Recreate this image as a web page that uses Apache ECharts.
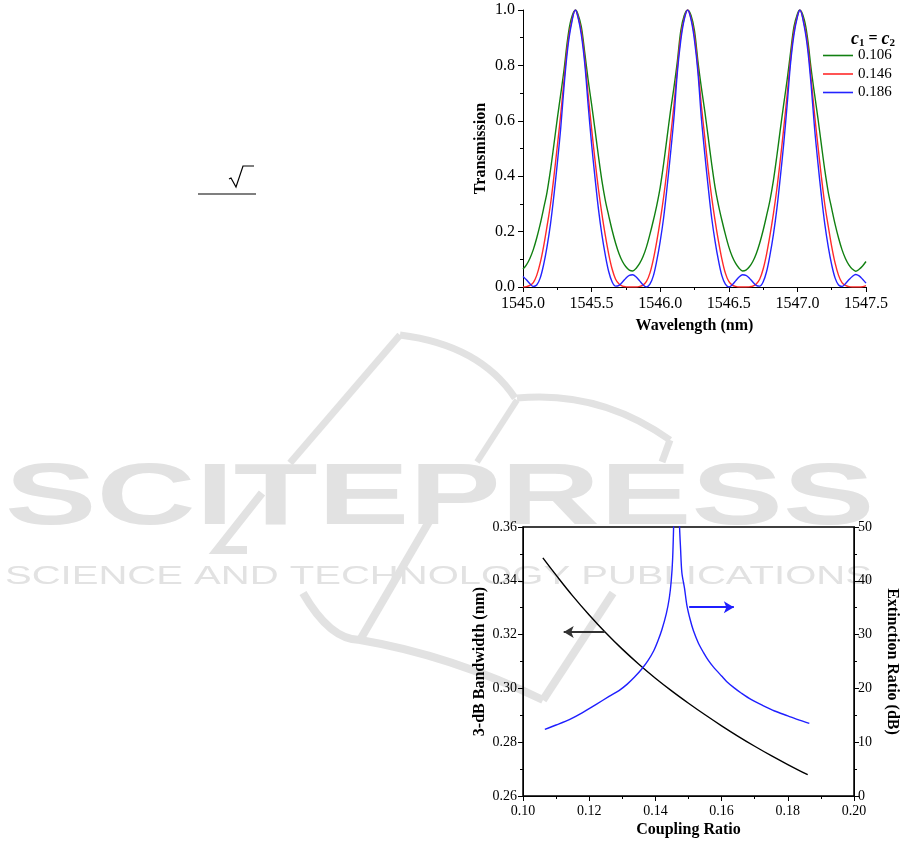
<!DOCTYPE html>
<html>
<head>
<meta charset="utf-8">
<script src="https://cdn.jsdelivr.net/npm/echarts@6/dist/echarts.min.js"></script>
<style>html,body{margin:0;padding:0;background:#fff}#c{width:901px;height:841px}</style>
</head>
<body>
<div id="c"></div>
<script>
// ---------- Top chart: transmission spectra ----------
const wavelength = [
1545.000,1545.025,1545.050,1545.075,1545.100,1545.125,1545.150,1545.175,1545.200,1545.225,
1545.250,1545.275,1545.300,1545.325,1545.350,1545.382,1545.400,1545.425,1545.450,1545.475,
1545.500,1545.525,1545.550,1545.575,1545.600,1545.625,1545.650,1545.675,1545.700,1545.725,
1545.750,1545.775,1545.800,1545.825,1545.850,1545.875,1545.900,1545.925,1545.950,1545.975,
1546.000,1546.025,1546.050,1546.075,1546.100,1546.125,1546.150,1546.175,1546.200,1546.225,
1546.250,1546.275,1546.300,1546.325,1546.350,1546.375,1546.400,1546.425,1546.450,1546.475,
1546.500,1546.525,1546.550,1546.575,1546.600,1546.625,1546.650,1546.675,1546.700,1546.725,
1546.750,1546.775,1546.800,1546.825,1546.850,1546.875,1546.900,1546.925,1546.950,1546.975,
1547.000,1547.018,1547.050,1547.075,1547.100,1547.125,1547.150,1547.175,1547.200,1547.225,
1547.250,1547.275,1547.300,1547.325,1547.350,1547.375,1547.400,1547.425,1547.450,1547.475,
1547.500];
const trans106 = [
.065,.080,.103,.135,.177,.226,.283,.342,.421,.513,.608,.696,.788,.894,.965,
1,
.986,.940,.846,.747,.659,.567,.472,.384,.313,.257,.204,.158,.12,.092,.073,.061,
.058,
.068,.085,.11,.145,.19,.24,.295,.36,.445,.54,.635,.72,.815,.925,.98,
1,
.98,.925,.815,.72,.635,.54,.445,.36,.295,.24,.19,.145,.11,.085,.068,
.058,
.061,.073,.092,.12,.158,.204,.257,.313,.384,.472,.567,.659,.747,.846,.940,.986,
1,
.965,.894,.788,.696,.608,.513,.421,.342,.283,.226,.177,.135,.103,.080,.065,
.057,.064,.076,.092];
const trans146 = [
0,.0015,.006,.016,.042,.086,.146,.219,.297,.397,.508,.623,.752,.873,.948,
1,
.978,.923,.822,.693,.572,.457,.353,.264,.186,.118,.064,.028,.011,.003,.0005,0,
0,
0,.002,.007,.02,.05,.10,.165,.24,.325,.425,.54,.655,.79,.905,.97,
1,
.97,.905,.79,.655,.54,.425,.325,.24,.165,.10,.05,.02,.007,.002,0,
0,
0,.0005,.003,.011,.028,.064,.118,.186,.264,.353,.457,.572,.693,.822,.923,.978,
1,
.948,.873,.752,.623,.508,.397,.297,.219,.146,.086,.042,.016,.006,.0015,0,
0,0,.001,.005];
const trans186 = [
.038,.026,.012,.002,.007,.032,.08,.145,.226,.329,.446,.574,.729,.858,.941,
1,
.975,.911,.807,.656,.516,.394,.281,.189,.115,.055,.018,.003,.006,.018,.032,.042,
.044,
.036,.022,.008,0,.01,.04,.095,.165,.25,.36,.48,.61,.775,.89,.965,
1,
.965,.89,.775,.61,.48,.36,.25,.165,.095,.04,.01,0,.008,.022,.036,
.044,
.042,.032,.018,.006,.003,.018,.055,.115,.189,.281,.394,.516,.656,.807,.911,.975,
1,
.941,.858,.729,.574,.446,.329,.226,.145,.08,.032,.007,.002,.012,.026,.038,
.045,.040,.028,.014];
const couplingNames = ['0.106', '0.146', '0.186'];

// ---------- Bottom chart: bandwidth & extinction ratio ----------
const couplingBW = [0.106,0.11,0.115,0.12,0.125,0.13,0.135,0.14,0.145,0.15,0.155,0.16,0.165,0.17,0.175,0.18,0.186];
const bandwidth  = [0.3485,0.3421,0.3344,0.3273,0.3207,0.3146,0.3090,0.3038,0.2990,0.2945,0.2902,0.2861,0.2822,0.2785,0.2750,0.2717,0.2679];
const couplingER = [0.1066,0.110,0.114,0.118,0.122,0.126,0.129,0.1315,0.1337,0.136,0.1378,0.1395,0.1408,0.142,0.1433,0.1442,0.1448,0.1452,0.1455,0.1458,
                    0.1469,0.1473,0.1476,0.148,0.1488,0.1495,0.1505,0.1515,0.153,0.1545,0.156,0.1575,0.16,0.1615,0.164,0.166,0.169,0.1725,0.176,0.18,0.1835,0.1865];
const extinction = [12.4,13.2,14.2,15.5,17.0,18.5,19.6,20.8,22.1,23.7,25.2,27.0,28.9,31.0,33.9,36.8,40.1,44,50,60,
                    60,50,46,41.5,38.6,35.5,32.8,30.7,28.4,26.7,25.2,24.0,22.3,21.3,20.0,19.1,17.9,16.8,15.8,14.9,14.1,13.5];
const arrowBW = [[0.1247, 0.321], [0.1123, 0.321]];
const arrowER = [[0.1502, 35.1], [0.1637, 35.1]];

const SERIF = '"Liberation Serif","Times New Roman",serif';
const WM = '#e2e2e2';

function axisCommon(fs, fmt, margin) {
  return {
    axisLine: { show: true, onZero: false, lineStyle: { color: '#000', width: 1 } },
    axisTick: { show: true, inside: false, length: 5, lineStyle: { color: '#000' } },
    minorTick: { show: true, splitNumber: 2, length: 3, lineStyle: { color: '#000' } },
    splitLine: { show: false },
    minorSplitLine: { show: false },
    axisLabel: { color: '#000', fontFamily: SERIF, fontSize: fs, margin: margin, formatter: fmt },
    nameTextStyle: { color: '#000', fontFamily: SERIF, fontWeight: 'bold', fontSize: fs }
  };
}

const chart = echarts.init(document.getElementById('c'), null, { renderer: 'canvas' });

const colors = ['#118011', '#ff2a2a', '#2323ff'];
const transSets = [trans106, trans146, trans186];

function wmLine(pts, w) {
  return { type: 'polyline', z: -10, silent: true, shape: { points: pts }, style: { fill: null, stroke: WM, lineWidth: w } };
}
function wmCurve(x1, y1, cx, cy, x2, y2, w) {
  return { type: 'bezierCurve', z: -10, silent: true, shape: { x1: x1, y1: y1, cpx1: cx, cpy1: cy, x2: x2, y2: y2 }, style: { fill: null, stroke: WM, lineWidth: w } };
}

const option = {
  animation: false,
  backgroundColor: '#fff',
  grid: [
    { left: 523, right: 35, top: 10, bottom: 554, containLabel: false },
    { left: 523, right: 47, top: 527, bottom: 45, show: true, borderColor: '#000', borderWidth: 1.5, backgroundColor: 'transparent' }
  ],
  legend: {
    data: couplingNames,
    orient: 'vertical',
    left: 823, top: 48, padding: 0,
    icon: 'rect',
    itemWidth: 30, itemHeight: 1.6, itemGap: 3.5,
    textStyle: { color: '#000', fontFamily: SERIF, fontSize: 15, lineHeight: 15 }
  },
  xAxis: [
    Object.assign(axisCommon(16, v => v.toFixed(1), 9), {
      type: 'value', gridIndex: 0, min: 1545, max: 1547.5, interval: 0.5,
      name: 'Wavelength (nm)', nameLocation: 'middle', nameGap: 31
    }),
    Object.assign(axisCommon(14, v => v.toFixed(2), 8), {
      type: 'value', gridIndex: 1, min: 0.10, max: 0.20, interval: 0.02,
      name: 'Coupling Ratio', nameLocation: 'middle', nameGap: 26,
      nameTextStyle: { color: '#000', fontFamily: SERIF, fontWeight: 'bold', fontSize: 16 }
    })
  ],
  yAxis: [
    Object.assign(axisCommon(16, v => v.toFixed(1), 8), {
      type: 'value', gridIndex: 0, min: 0, max: 1, interval: 0.2,
      name: 'Transmission', nameLocation: 'middle', nameGap: 34
    }),
    Object.assign(axisCommon(14, v => v.toFixed(2), 6), {
      type: 'value', gridIndex: 1, min: 0.26, max: 0.36, interval: 0.02, position: 'left',
      name: '3-dB Bandwidth (nm)', nameLocation: 'middle', nameGap: 35,
      nameTextStyle: { color: '#000', fontFamily: SERIF, fontWeight: 'bold', fontSize: 16 }
    }),
    Object.assign(axisCommon(14, v => String(v), 4), {
      type: 'value', gridIndex: 1, min: 0, max: 50, interval: 10, position: 'right',
      name: 'Extinction Ratio (dB)', nameLocation: 'middle', nameGap: 30, nameRotate: -90,
      nameTextStyle: { color: '#000', fontFamily: SERIF, fontWeight: 'bold', fontSize: 16 }
    })
  ],
  series: [
    ...couplingNames.map((nm, k) => ({
      name: nm, type: 'line', xAxisIndex: 0, yAxisIndex: 0,
      data: wavelength.map((x, i) => [x, transSets[k][i]]),
      showSymbol: false, symbol: 'none', smooth: 0.35,
      lineStyle: { color: colors[k], width: 1.4 }, itemStyle: { color: colors[k] },
      z: 3 + k
    })),
    {
      name: 'bw', type: 'line', xAxisIndex: 1, yAxisIndex: 1,
      data: couplingBW.map((x, i) => [x, bandwidth[i]]),
      showSymbol: false, symbol: 'none', smooth: 0.4,
      lineStyle: { color: '#000', width: 1.4 },
      markLine: {
        silent: true, symbol: ['none', 'arrow'], symbolSize: [9, 10],
        label: { show: false },
        lineStyle: { color: '#333', width: 2, type: 'solid' },
        data: [[{ coord: arrowBW[0] }, { coord: arrowBW[1] }]]
      }
    },
    {
      name: 'er', type: 'line', xAxisIndex: 1, yAxisIndex: 2,
      data: couplingER.map((x, i) => [x, extinction[i]]),
      showSymbol: false, symbol: 'none', smooth: 0.3, clip: true,
      lineStyle: { color: '#1f1fff', width: 1.4 },
      markLine: {
        silent: true, symbol: ['none', 'arrow'], symbolSize: [9, 10],
        label: { show: false },
        lineStyle: { color: '#1f1fff', width: 2, type: 'solid' },
        data: [[{ coord: arrowER[0] }, { coord: arrowER[1] }]]
      }
    }
  ],
  graphic: [
    // watermark
    { type: 'text', z: -10, silent: true, x: 5, y: 500, scaleX: 1.56,
      style: { text: 'SCITEPRESS', fill: WM, font: 'bold 88px "Liberation Sans", Arial, sans-serif', textVerticalAlign: 'middle' } },
    { type: 'text', z: -10, silent: true, x: 5, y: 577, scaleX: 1.54,
      style: { text: 'SCIENCE AND TECHNOLOGY PUBLICATIONS', fill: WM, font: '26px "Liberation Sans", Arial, sans-serif', textVerticalAlign: 'middle' } },
    wmLine([[290, 463], [400, 335]], 7),
    wmCurve(400, 335, 480, 345, 515, 398, 7),
    wmCurve(517, 398, 600, 390, 670, 440, 7),
    wmLine([[670, 440], [662, 462]], 7),
    wmLine([[517, 400], [477, 462]], 6),
    wmLine([[262, 493], [217, 550], [247, 550]], 8),
    wmCurve(303, 593, 330, 640, 360, 640, 8),
    wmCurve(360, 640, 450, 655, 543, 700, 8),
    wmLine([[543, 700], [613, 593]], 8),
    wmLine([[360, 640], [430, 520]], 8),
    // square-root fragment and fraction bar
    { type: 'polyline', shape: { points: [[229, 179], [231, 178], [236, 187], [243, 166], [254, 166]] },
      style: { fill: null, stroke: '#000', lineWidth: 1.2 } },
    { type: 'line', shape: { x1: 198, y1: 194, x2: 256, y2: 194 }, style: { stroke: '#000', lineWidth: 1.2 } },
    // legend title c1 = c2
    { type: 'text', x: 851, y: 39,
      style: {
        text: '{c|c}{s|1}{e| = }{c|c}{s|2}',
        textVerticalAlign: 'middle',
        rich: {
          c: { fontFamily: SERIF, fontStyle: 'italic', fontWeight: 'bold', fontSize: 18, fill: '#000' },
          s: { fontFamily: SERIF, fontWeight: 'bold', fontSize: 11, fill: '#000', padding: [8, 0, 0, 0] },
          e: { fontFamily: SERIF, fontWeight: 'bold', fontSize: 16, fill: '#000' }
        }
      } }
  ]
};
chart.setOption(option);
</script>
</body>
</html>
